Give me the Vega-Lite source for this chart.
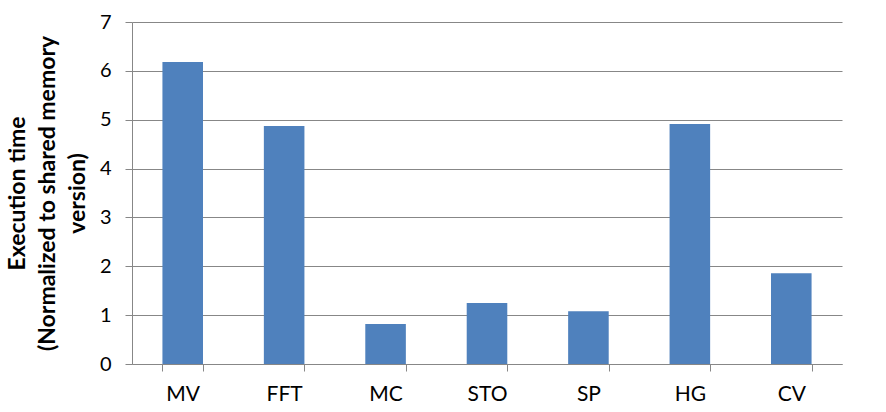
{
  "$schema": "https://vega.github.io/schema/vega-lite/v6.json",
  "autosize": "none",
  "width": 710,
  "height": 342,
  "padding": {"left": 132, "top": 22, "right": 44, "bottom": 48},
  "background": "white",
  "config": {
    "view": {"stroke": null},
    "font": "Lato",
    "axis": {"labelFont": "Lato", "titleFont": "Lato", "labelColor": "#000000", "titleColor": "#000000"}
  },
  "data": {
    "values": [
      {"benchmark": "MV", "time": 6.18},
      {"benchmark": "FFT", "time": 4.87},
      {"benchmark": "MC", "time": 0.82},
      {"benchmark": "STO", "time": 1.25},
      {"benchmark": "SP", "time": 1.08},
      {"benchmark": "HG", "time": 4.91},
      {"benchmark": "CV", "time": 1.86}
    ]
  },
  "mark": {"type": "bar", "color": "#4F81BD"},
  "encoding": {
    "x": {
      "field": "benchmark",
      "type": "nominal",
      "sort": null,
      "scale": {"paddingInner": 0.6, "paddingOuter": 0.3},
      "axis": {
        "title": null,
        "labelAngle": 0,
        "labelFontSize": 21,
        "labelPadding": 12,
        "tickBand": "extent",
        "tickSize": 7,
        "tickColor": "#878787",
        "domainColor": "#878787",
        "grid": false
      }
    },
    "y": {
      "field": "time",
      "type": "quantitative",
      "scale": {"domain": [0, 7], "nice": false},
      "axis": {
        "values": [0, 1, 2, 3, 4, 5, 6, 7],
        "title": ["Execution time", "(Normalized to shared memory", "version)"],
        "titleFontSize": 23,
        "titleFontWeight": "bold",
        "titleLineHeight": 30,
        "titlePadding": 10,
        "labelFontSize": 20,
        "labelPadding": 14,
        "tickSize": 7,
        "tickColor": "#878787",
        "domainColor": "#878787",
        "gridColor": "#878787",
        "grid": true
      }
    }
  }
}
